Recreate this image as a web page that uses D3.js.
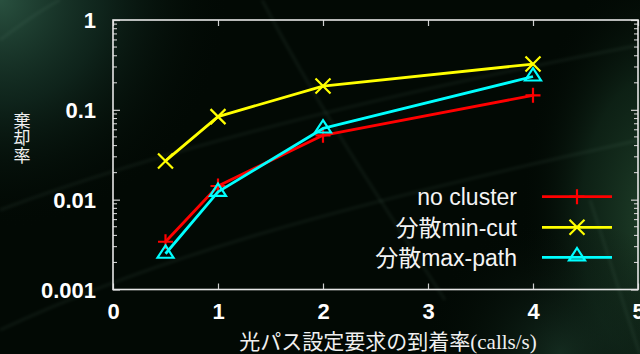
<!DOCTYPE html>
<html>
<head>
<meta charset="utf-8">
<script src="https://cdn.jsdelivr.net/npm/d3@7"></script>
<style>
  html, body { margin: 0; padding: 0; background: #020904; }
  svg { display: block; }
</style>
</head>
<body>
<svg id="chart" width="640" height="354"></svg>
<script>
// Arrival rate of optical path setup requests (calls/s)
const rates = [0.5, 1, 2, 4];

// Blocking rate per scheme
const noCluster = [0.0034, 0.0142, 0.052, 0.145];
const minCut    = [0.027, 0.084, 0.184, 0.323];
const maxPath   = [0.0025, 0.0122, 0.062, 0.235];

const seriesNames = ["no cluster", "分散min-cut", "分散max-path"];
const xTicks = [0, 1, 2, 3, 4, 5];
const yTicks = [1, 0.1, 0.01, 0.001];
const yTickLabels = ["1", "0.1", "0.01", "0.001"];

const W = 640, H = 354;
const plot = { left: 113, right: 638, top: 20, bottom: 289.5 };

const svg = d3.select("#chart");
const defs = svg.append("defs");

// ---- background: dark green texture with soft glows and faint streaks ----
function radial(id, stops, attrs) {
  const g = defs.append("radialGradient").attr("id", id);
  Object.entries(attrs || {}).forEach(([k, v]) => g.attr(k, v));
  stops.forEach(s => g.append("stop").attr("offset", s[0]).attr("stop-color", s[1]).attr("stop-opacity", s[2]));
}
radial("glowTL", [[0, "#2b5442", 0.95], [0.45, "#17352a", 0.6], [1, "#020904", 0]],
  { gradientUnits: "userSpaceOnUse", cx: 0, cy: 0, r: 230 });
radial("glowR", [[0, "#24472f", 0.9], [0.55, "#163322", 0.55], [1, "#020904", 0]]);
radial("glowBR", [[0, "#1f4030", 0.6], [1, "#020904", 0]],
  { gradientUnits: "userSpaceOnUse", cx: 560, cy: 354, r: 140 });

const blur = defs.append("filter").attr("id", "soft").attr("x", "-20%").attr("y", "-20%").attr("width", "140%").attr("height", "140%");
blur.append("feGaussianBlur").attr("stdDeviation", 1.6);

const bg = svg.append("g");
bg.append("rect").attr("width", W).attr("height", H).attr("fill", "#020904");
bg.append("rect").attr("width", W).attr("height", H).attr("fill", "url(#glowTL)");
bg.append("ellipse").attr("cx", 655).attr("cy", 220).attr("rx", 135).attr("ry", 260)
  .attr("fill", "url(#glowR)");
bg.append("rect").attr("width", W).attr("height", H).attr("fill", "url(#glowBR)");

const streaks = [
  "M0,210 C160,150 380,95 640,45",
  "M0,330 C150,260 320,210 640,140",
  "M262,0 C320,110 380,200 445,300",
  "M590,200 C610,260 625,310 640,354",
  "M0,40 C20,25 40,10 60,0"
];
bg.selectAll("path.streak").data(streaks).join("path")
  .attr("class", "streak").attr("d", d => d)
  .attr("fill", "none").attr("stroke", "#7fa892")
  .attr("stroke-width", 3).attr("opacity", 0.09).attr("filter", "url(#soft)");

// ---- scales ----
const x = d3.scaleLinear().domain([0, 5]).range([plot.left, plot.right]);
const y = d3.scaleLog().domain([0.001, 1]).range([plot.bottom, plot.top]);

const frameColor = "#e6e6e6";
const tickColor = "#cfcfcf";

// minor log ticks on left and right sides
const minorVals = [];
[0.001, 0.01, 0.1].forEach(d => { for (let k = 2; k <= 9; k++) minorVals.push(d * k); });

const axes = svg.append("g");
// left axis, ticks drawn inward
const leftAxis = d3.axisLeft(y).tickValues(yTicks).tickFormat((d, i) => yTickLabels[i]).tickSizeInner(-7).tickSizeOuter(0).tickPadding(17);
const gl = axes.append("g").attr("transform", `translate(${plot.left},0)`).call(leftAxis);
gl.select(".domain").remove();
gl.selectAll("line").attr("stroke", tickColor).attr("stroke-width", 1.2);
gl.selectAll("text").attr("fill", "#ffffff").attr("font-family", "Liberation Sans, Arial, sans-serif")
  .attr("font-weight", "bold").attr("font-size", 22).attr("dy", "0.36em");

axes.append("g").selectAll("line").data(minorVals).join("line")
  .attr("x1", plot.left).attr("x2", plot.left + 4)
  .attr("y1", d => y(d)).attr("y2", d => y(d))
  .attr("stroke", tickColor).attr("stroke-width", 1.1);

// right mirror ticks
const rightAxis = d3.axisRight(y).tickValues(yTicks).tickFormat("").tickSizeInner(-7).tickSizeOuter(0);
const gr = axes.append("g").attr("transform", `translate(${plot.right},0)`).call(rightAxis);
gr.select(".domain").remove();
gr.selectAll("line").attr("stroke", tickColor).attr("stroke-width", 1.2);
axes.append("g").selectAll("line").data(minorVals).join("line")
  .attr("x1", plot.right).attr("x2", plot.right - 4)
  .attr("y1", d => y(d)).attr("y2", d => y(d))
  .attr("stroke", tickColor).attr("stroke-width", 1.1);

// bottom axis
const bottomAxis = d3.axisBottom(x).tickValues(xTicks).tickFormat(d3.format("d")).tickSizeInner(-6).tickSizeOuter(0).tickPadding(14);
const gb = axes.append("g").attr("transform", `translate(0,${plot.bottom})`).call(bottomAxis);
gb.select(".domain").remove();
gb.selectAll("line").attr("stroke", tickColor).attr("stroke-width", 1.2);
gb.selectAll("text").attr("fill", "#ffffff").attr("font-family", "Liberation Sans, Arial, sans-serif")
  .attr("font-weight", "bold").attr("font-size", 22).attr("dy", "0.72em");

// top mirror ticks
const topAxis = d3.axisTop(x).tickValues(xTicks).tickFormat("").tickSizeInner(-6).tickSizeOuter(0);
const gt = axes.append("g").attr("transform", `translate(0,${plot.top})`).call(topAxis);
gt.select(".domain").remove();
gt.selectAll("line").attr("stroke", tickColor).attr("stroke-width", 1.2);

// frame
svg.append("rect")
  .attr("x", plot.left).attr("y", plot.top)
  .attr("width", plot.right - plot.left).attr("height", plot.bottom - plot.top)
  .attr("fill", "none").attr("stroke", frameColor).attr("stroke-width", 1.6);

// ---- axis titles ----
// y title set vertically, one character per row
svg.append("text")
  .attr("x", 22).attr("y", 112)
  .attr("writing-mode", "vertical-rl")
  .attr("letter-spacing", 0.5)
  .attr("font-family", "Noto Sans CJK JP, sans-serif").attr("font-size", 17)
  .attr("fill", "#f0f0f0")
  .text("棄却率");

const xTitle = svg.append("text")
  .attr("x", 388).attr("y", 349)
  .attr("text-anchor", "middle").attr("fill", "#f0f0f0").attr("font-size", 21);
xTitle.append("tspan").attr("font-family", "Noto Sans CJK JP, sans-serif").text("光パス設定要求の到着率");
xTitle.append("tspan").attr("font-family", "Liberation Serif, Times New Roman, serif").text("(calls/s)");

// ---- series ----
const colors = ["#ff0000", "#ffff00", "#00ffff"];
const seriesValues = [noCluster, minCut, maxPath];
const markerKinds = ["plus", "cross", "triangle"];

function drawMarker(g, kind, cx, cy, color) {
  const s = 7.5;
  if (kind === "plus") {
    g.append("path").attr("d", `M${cx - s},${cy}H${cx + s}M${cx},${cy - s}V${cy + s}`)
      .attr("stroke", color).attr("stroke-width", 2.2).attr("fill", "none");
  } else if (kind === "cross") {
    g.append("path").attr("d", `M${cx - s},${cy - s}L${cx + s},${cy + s}M${cx - s},${cy + s}L${cx + s},${cy - s}`)
      .attr("stroke", color).attr("stroke-width", 2.2).attr("fill", "none");
  } else {
    const hw = 8, up = 8.3, down = 4;
    g.append("path").attr("d", `M${cx},${cy - up}L${cx + hw},${cy + down}L${cx - hw},${cy + down}Z`)
      .attr("stroke", color).attr("stroke-width", 2.2).attr("fill", "none");
  }
}

const line = d3.line().x(d => x(d[0])).y(d => y(d[1]));
const seriesG = svg.append("g");
seriesValues.forEach((vals, si) => {
  const pts = rates.map((r, i) => [r, vals[i]]);
  const g = seriesG.append("g");
  g.append("path").datum(pts).attr("d", line)
    .attr("fill", "none").attr("stroke", colors[si]).attr("stroke-width", 2.8)
    .attr("stroke-linejoin", "round");
  pts.forEach(p => drawMarker(g, markerKinds[si], x(p[0]), y(p[1]), colors[si]));
});

// ---- legend ----
const legendRows = [196.7, 227.3, 257.3];
const legend = svg.append("g");
seriesNames.forEach((name, i) => {
  const ly = legendRows[i];
  legend.append("text")
    .attr("x", 517).attr("y", ly).attr("dy", "0.36em")
    .attr("text-anchor", "end").attr("fill", "#f4f4f4")
    .attr("font-family", "Liberation Sans, Noto Sans CJK JP, sans-serif").attr("font-size", 23)
    .text(name);
  legend.append("line")
    .attr("x1", 542).attr("x2", 612).attr("y1", ly).attr("y2", ly)
    .attr("stroke", colors[i]).attr("stroke-width", 2.8);
  drawMarker(legend, markerKinds[i], 577, markerKinds[i] === "triangle" ? ly - 1 : ly, colors[i]);
});
</script>
</body>
</html>
